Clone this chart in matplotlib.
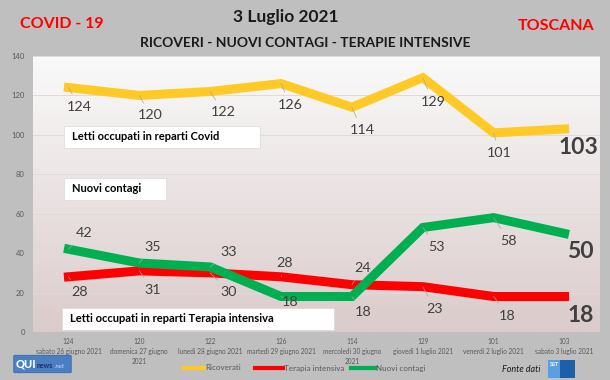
import numpy as np
import matplotlib
matplotlib.use("Agg")
import matplotlib.pyplot as plt
from matplotlib.lines import Line2D
from matplotlib.patches import Rectangle, FancyBboxPatch

plt.rcParams['font.family'] = ['Lato', 'DejaVu Sans']

# ---- data ----
dates = ["sabato 26 giugno 2021", "domenica 27 giugno\n2021", "lunedì 28 giugno 2021",
         "martedì 29 giugno 2021", "mercoledì 30 giugno\n2021", "giovedì 1 luglio 2021",
         "venerdì 2 luglio 2021", "sabato 3 luglio 2021"]
ricoverati = [124, 120, 122, 126, 114, 129, 101, 103]
terapia = [28, 31, 30, 28, 24, 23, 18, 18]
contagi = [42, 35, 33, 18, 18, 53, 58, 50]
series_names = ["Ricoverati", "Terapia intensiva", "Nuovi contagi"]

# label offsets in pixels (layout)
off_ric = [(11, -19), (11, -20), (13, -21), (9, -21), (10, -23), (10, -24), (6, -20), (14, -19)]
off_ter = [(11, -15), (13, -19), (18, -19), (4, 14), (11, 17), (12, -22), (14, -19), (16, -19)]
off_con = [(16, 16), (13, 16), (18, 15), (9, -5), (11, -15), (14, -19), (15, -23), (16, -18)]

W, H = 610, 380
BG = '#bfbfbf'
C_Y, C_R, C_G = '#ffc926', '#ff0000', '#00b050'
TXT = '#404040'
AX = '#595959'

def fx(x):
    return x / W

def fy(y):
    return 1 - y / H

fig = plt.figure(figsize=(6.1, 3.8), dpi=100, facecolor=BG)
ax = fig.add_axes([fx(33), fy(332), fx(600) - fx(33), fy(56) - fy(332)])
ax.set_xlim(-0.5, 7.5)
ax.set_ylim(0, 140)

# gradient background
top = np.array([250, 250, 250]) / 255
bot = np.array([219, 203, 203]) / 255
t = np.linspace(0, 1, 256)[:, None]
grad = (top * (1 - t) + bot * t)[:, None, :].repeat(2, axis=1)
ax.imshow(grad, extent=(-0.5, 7.5, 0, 140), aspect='auto', zorder=0, origin='upper')

for s in ax.spines.values():
    s.set_visible(False)
ax.axhline(0, color='#d0c4c4', lw=0.8, zorder=1)
for v in range(20, 141, 20):
    ax.axhline(v, color='#e2dada', lw=0.7, zorder=0.5)

x = np.arange(len(dates))
lw = 6.5
ax.plot(x, ricoverati, color=C_Y, lw=lw, solid_joinstyle='miter', zorder=2)
ax.plot(x, terapia, color=C_R, lw=lw, solid_joinstyle='miter', zorder=2)
ax.plot(x, contagi, color=C_G, lw=lw, solid_joinstyle='miter', zorder=3)

def labels(vals, offs):
    n = len(vals)
    for i, (v, (dx, dy)) in enumerate(zip(vals, offs)):
        last = i == n - 1
        ax.annotate(str(v), xy=(i, v), xytext=(dx, dy), textcoords='offset pixels',
                    ha='center', va='center',
                    fontsize=16.5 if last else 10.3, fontweight='bold' if last else 'normal',
                    color=TXT, zorder=4,
                    arrowprops=None if last else dict(arrowstyle='-', color='#a6a6a6', lw=0.5,
                                                      shrinkA=3, shrinkB=0))

labels(ricoverati, off_ric)
labels(terapia, off_ter)
labels(contagi, off_con)

ax.set_yticks(range(0, 141, 20))
ax.tick_params(axis='y', length=0, labelsize=5.5, labelcolor=AX, pad=6)
ax.set_xticks(x)
ax.set_xticklabels([f"{r}\n{d}" for r, d in zip(ricoverati, dates)],
                   fontsize=4.7, color=AX, linespacing=1.5)
ax.tick_params(axis='x', length=0, pad=4)

# text boxes
def tbox(x0, y0, x1, y1, text):
    fig.add_artist(Rectangle((fx(x0), fy(y1)), fx(x1) - fx(x0), fy(y0) - fy(y1),
                             transform=fig.transFigure, facecolor='white',
                             edgecolor='#d9d9d9', lw=0.5, zorder=5))
    fig.text(fx(x0 + 8), fy((y0 + y1) / 2), text, ha='left', va='center',
             fontsize=8, fontweight='bold', color='black', zorder=6)

tbox(64, 126, 260, 148, "Letti occupati in reparti Covid")
tbox(64, 178, 166, 200, "Nuovi contagi")
tbox(62, 308, 334, 330, "Letti occupati in reparti Terapia intensiva")

# titles
fig.text(fx(286), fy(17), "3 Luglio 2021", ha='center', va='center',
         fontsize=12.5, fontweight='bold', color='#1a1a1a')
fig.text(fx(305), fy(43), "RICOVERI - NUOVI CONTAGI - TERAPIE INTENSIVE", ha='center',
         va='center', fontsize=10, fontweight='bold', color='#1a1a1a')
fig.text(fx(62), fy(24), "COVID - 19", ha='center', va='center',
         fontsize=11.5, fontweight='bold', color='#ff0000')
fig.text(fx(556), fy(26), "TOSCANA", ha='center', va='center',
         fontsize=11.5, fontweight='bold', color='#ff0000')

# legend
legend_items = [(183, 204, C_Y), (255, 283, C_R), (351, 375, C_G)]
ly = 368
for (x0, x1, c), name in zip(legend_items, series_names):
    fig.add_artist(Line2D([fx(x0), fx(x1)], [fy(ly), fy(ly)], color=c, lw=3,
                          transform=fig.transFigure))
    fig.text(fx(x1 + 1), fy(ly), name, ha='left', va='center', fontsize=5.8, color=AX)

# logos
fig.add_artist(FancyBboxPatch((fx(15), fy(372)), fx(55), fy(356) - fy(372),
                              boxstyle='round,pad=0.002', transform=fig.transFigure,
                              facecolor='#4a7fc4', edgecolor='#2f5f9e', lw=0.5))
fig.text(fx(16), fy(364), "QUI", ha='left', va='center', fontsize=8,
         fontweight='black', color='white')
fig.text(fx(37), fy(366), "news", ha='left', va='center', fontsize=5,
         fontweight='bold', color='#1f2f5a')
fig.text(fx(55), fy(366), ".net", ha='left', va='center', fontsize=4.5,
         style='italic', color='#cfe0f5')
fig.text(fx(540), fy(370), "Fonte dati", ha='right', va='center', fontsize=6.5,
         style='italic', color='#1a1a1a')
fig.add_artist(Rectangle((fx(548), fy(378)), fx(12), fy(360) - fy(378),
                         transform=fig.transFigure, facecolor='#5aa0e0', edgecolor='none'))
fig.add_artist(Rectangle((fx(560), fy(378)), fx(15), fy(360) - fy(378),
                         transform=fig.transFigure, facecolor='#1d5fa8', edgecolor='none'))
fig.text(fx(554), fy(364), "SST", ha='center', va='center', fontsize=4,
         fontweight='bold', color='white')

fig.savefig("out.png", dpi=100, facecolor=BG)
